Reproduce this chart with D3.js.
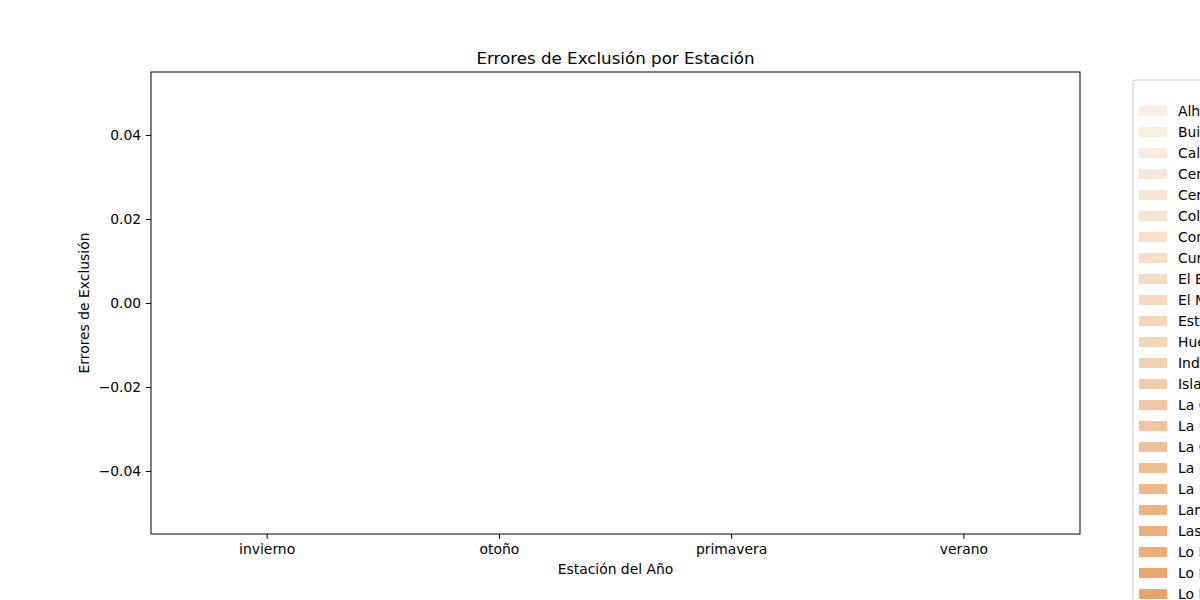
<!DOCTYPE html>
<html>
<head>
<meta charset="utf-8">
<script src="https://cdn.jsdelivr.net/npm/d3@7"></script>
<style>
  body { margin: 0; background: #fff; }
  svg { display: block; font-family: "DejaVu Sans", sans-serif; }
</style>
</head>
<body>
<svg id="chart" width="1200" height="600"></svg>
<script>
// ---- data ----
const seasons = ["invierno", "otoño", "primavera", "verano"];
const comunas = ["Alhué", "Buin", "Calera de Tango", "Cerrillos", "Cerro Navia", "Colina",
  "Conchalí", "Curacaví", "El Bosque", "El Monte", "Estación Central", "Huechuraba",
  "Independencia", "Isla de Maipo", "La Cisterna", "La Florida", "La Granja", "La Pintana",
  "La Reina", "Lampa", "Las Condes", "Lo Barnechea", "Lo Espejo", "Lo Prado", "Macul",
  "Maipú", "María Pinto", "Melipilla", "Padre Hurtado", "Paine", "Pedro Aguirre Cerda",
  "Peñaflor", "Peñalolén", "Pirque", "Providencia", "Pudahuel", "Puente Alto", "Quilicura",
  "Quinta Normal", "Recoleta", "Renca", "San Bernardo", "San Joaquín", "San José de Maipo",
  "San Miguel", "San Ramón", "Santiago", "Talagante", "Tiltil", "Vitacura", "Ñuñoa"];
// exclusion errors per season (one array per commune); the reference has no values
const errores = comunas.map(() => [null, null, null, null]);
const yTicks = [-0.04, -0.02, 0.00, 0.02, 0.04];

// ---- layout ----
const svg = d3.select("#chart");
const m = { left: 151, right: 1080, top: 72, bottom: 534 };

const x = d3.scaleBand().domain(seasons).range([m.left, m.right]).padding(0);
const y = d3.scaleLinear().domain([-0.055, 0.055]).range([m.bottom, m.top]);
const xSub = d3.scaleBand().domain(comunas).range([0, x.bandwidth()]).paddingOuter(0.1);
const color = d3.scaleLinear().domain([0, 11, 23]).range(["#fbefe5", "#f4d4b7", "#eba36b"]).clamp(true);

// bars (none have values in the reference)
const barData = [];
comunas.forEach((c, ci) => seasons.forEach((s, si) => {
  const v = errores[ci][si];
  if (v !== null && !isNaN(v)) barData.push({ c, ci, s, v });
}));
svg.append("g").selectAll("rect").data(barData).join("rect")
  .attr("x", d => x(d.s) + xSub(d.c))
  .attr("width", xSub.bandwidth())
  .attr("y", d => Math.min(y(d.v), y(0)))
  .attr("height", d => Math.abs(y(d.v) - y(0)))
  .attr("fill", d => color(d.ci));

// axes
const fs = "13.9px";
const xAxis = svg.append("g").attr("transform", `translate(0,${m.bottom})`)
  .call(d3.axisBottom(x).tickSize(4.9).tickPadding(4.9).tickSizeOuter(0));
const yAxis = svg.append("g").attr("transform", `translate(${m.left},0)`)
  .call(d3.axisLeft(y).tickValues(yTicks).tickFormat(d3.format(".2f")).tickSize(4.9).tickPadding(4.9).tickSizeOuter(0));
[xAxis, yAxis].forEach(g => {
  g.select(".domain").remove();
  g.selectAll("line").attr("stroke", "#000").attr("stroke-width", 1);
  g.selectAll("text").attr("fill", "#000").style("font-size", fs).style("font-family", "DejaVu Sans");
});

// frame
svg.append("rect").attr("x", m.left).attr("y", m.top)
  .attr("width", m.right - m.left).attr("height", m.bottom - m.top)
  .attr("fill", "none").attr("stroke", "#000").attr("stroke-width", 1);

// title + labels
svg.append("text").attr("x", (m.left + m.right) / 2).attr("y", 64)
  .attr("text-anchor", "middle").style("font-size", "16.7px").text("Errores de Exclusión por Estación");
svg.append("text").attr("x", (m.left + m.right) / 2).attr("y", 574)
  .attr("text-anchor", "middle").style("font-size", fs).text("Estación del Año");
svg.append("text").attr("transform", `translate(89,${(m.top + m.bottom) / 2}) rotate(-90)`)
  .attr("text-anchor", "middle").style("font-size", fs).text("Errores de Exclusión");

// legend
const lg = svg.append("g").attr("transform", "translate(1133,80)");
const box = lg.append("rect").attr("x", 0).attr("y", 0).attr("rx", 3).attr("ry", 3)
  .attr("height", 31 + comunas.length * 21)
  .attr("fill", "#fff").attr("fill-opacity", 0.8).attr("stroke", "#cccccc").attr("stroke-width", 1);
const items = lg.selectAll("g.item").data(comunas).join("g").attr("class", "item")
  .attr("transform", (d, i) => `translate(0,${31 + i * 21})`);
items.append("rect").attr("x", 6).attr("y", -5).attr("width", 28).attr("height", 10)
  .attr("fill", (d, i) => color(i));
const labels = items.append("text").attr("x", 45).attr("y", 5).style("font-size", fs).text(d => d);
let maxW = 0;
labels.each(function () { maxW = Math.max(maxW, this.getComputedTextLength()); });
const bw = 45 + maxW + 8;
box.attr("width", bw);
lg.append("text").attr("x", bw / 2 + 20).attr("y", 20).attr("text-anchor", "middle")
  .style("font-size", fs).text("comuna");
</script>
</body>
</html>
